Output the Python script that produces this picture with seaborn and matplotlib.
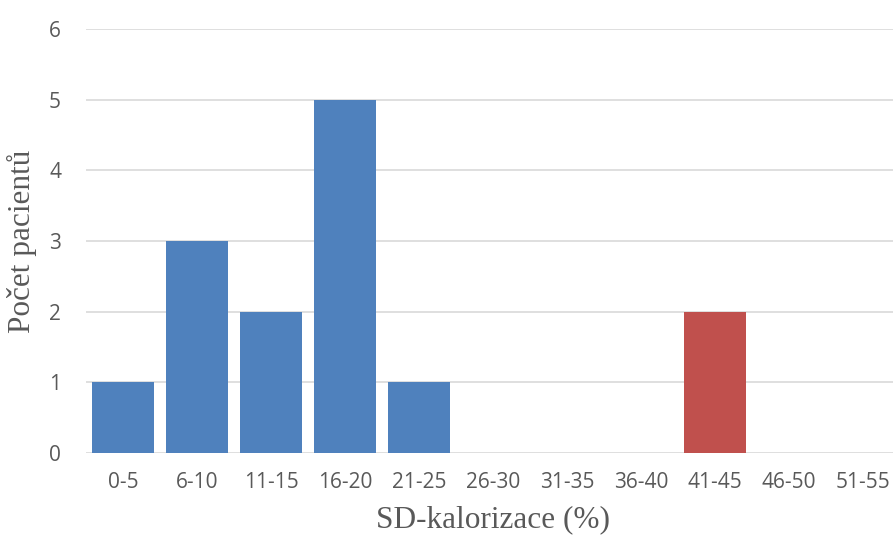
import matplotlib
matplotlib.use("Agg")
import matplotlib.pyplot as plt
import seaborn as sns
import pandas as pd

categories = ["0-5", "6-10", "11-15", "16-20", "21-25", "26-30", "31-35",
              "36-40", "41-45", "46-50", "51-55"]
counts = [1, 3, 2, 5, 1, 0, 0, 0, 2, 0, 0]
highlight = ["41-45"]
y_ticks = [0, 1, 2, 3, 4, 5, 6]
x_label = "SD-kalorizace (%)"
y_label = "Počet pacientů"

BLUE = "#4F81BD"
RED = "#C0504D"

sns.set_theme(style="white")
df = pd.DataFrame({"cat": categories, "n": counts})
palette = {c: (RED if c in highlight else BLUE) for c in categories}

fig = plt.figure(figsize=(8.93, 5.40), dpi=100)
W, H = 893, 540
left, right, top, bottom = 86, 900, 29, 453
ax = fig.add_axes([left / W, 1 - bottom / H, (right - left) / W, (bottom - top) / H])

sns.barplot(data=df, x="cat", y="n", hue="cat", palette=palette, order=categories,
            width=0.84, legend=False, ax=ax, saturation=1, zorder=3, linewidth=0)

ax.set_ylim(0, 6)
ax.set_xlim(-0.5, len(categories) - 0.5)
ax.set_yticks(y_ticks)
ax.yaxis.grid(True, color="#D9D9D9", linewidth=1.2, zorder=0)
ax.set_axisbelow(True)
for s in ax.spines.values():
    s.set_visible(False)
ax.tick_params(axis="both", length=0, colors="#595959", labelsize=15)
ax.tick_params(axis="x", pad=14)
ax.tick_params(axis="y", pad=18)
for lab in ax.get_xticklabels() + ax.get_yticklabels():
    lab.set_fontfamily("Open Sans")

ax.set_xlabel(x_label, fontfamily="Liberation Serif", fontsize=22.5, color="#595959")
ax.set_ylabel(y_label, fontfamily="Liberation Serif", fontsize=22.5, color="#595959")
ax.xaxis.set_label_coords(0.5, (bottom - 505) / (bottom - top))
ax.yaxis.set_label_coords((37 - left) / (right - left), 0.5)

fig.savefig("out.png", dpi=100)
